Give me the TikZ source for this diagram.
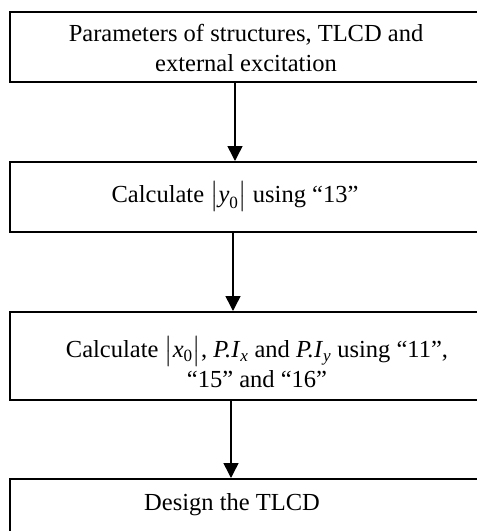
\documentclass[tikz,border=0pt]{standalone}
\usepackage{amsmath}
\usepackage{fontspec}
\setmainfont{Liberation Serif}
\usetikzlibrary{calc}
\usetikzlibrary{arrows.meta}

\begin{document}
\begin{tikzpicture}[x=1pt, y=-1pt, style={align=center},
	frame/.style={draw, line width=1.5pt, anchor=north west, minimum width=520pt, inner sep=0pt},
	txt/.style={font=\fontsize{24.5}{30}\selectfont, inner sep=0pt},
	flow/.style={-{Triangle[width=15pt, length=15pt]}, line width=1.5pt}]
	\useasboundingbox (0,0) rectangle (477,531);
	\clip (0,0) rectangle (477,531);
	\node[frame, minimum height=70pt] (param) at (9,11) {};
	\node[frame, minimum height=70pt] (ycalc) at (9,161) {};
	\node[frame, minimum height=88pt] (xcalc) at (9,311) {};
	\node[frame, minimum height=80pt] (design) at (9,478) {};
	\node[txt] (paramT) at (246,48) {Parameters of structures, TLCD and\\external excitation};
	\node[txt] (ycalcT) at (235,196) {Calculate $\bigl|\text{\itshape y}_{\text{0}}\bigr|$ using ``13''};
	\node[txt] (xcalcT) at (257,362) {Calculate $\bigl|\text{\itshape x}_{\text{0}}\bigr|$, \textit{P.I}$_{\text{\itshape x}}$ and \textit{P.I}$_{\text{\itshape y}}$ using ``11'',\\``15'' and ``16''};
	\node[txt] (designT) at (232,505) {Design the TLCD};
	\draw[flow] ($(param.south west)+(226,0)$) -- ($(ycalc.north west)+(226,0)$);
	\draw[flow] ($(ycalc.south west)+(224,0)$) -- ($(xcalc.north west)+(224,0)$);
	\draw[flow] ($(xcalc.south west)+(222,0)$) -- ($(design.north west)+(222,0)$);
\end{tikzpicture}
\end{document}
